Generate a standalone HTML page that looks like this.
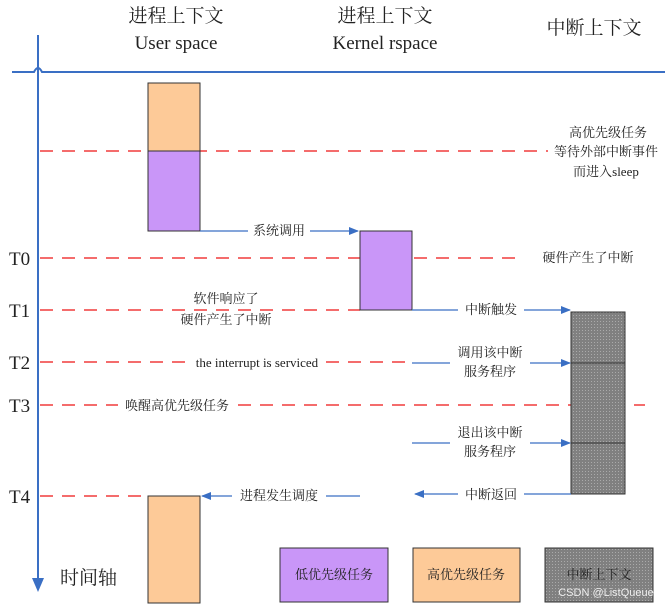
<!DOCTYPE html>
<html><head><meta charset="utf-8"><style>body{margin:0;background:#fff}svg{display:block}text{font-family:"Liberation Serif","Noto Serif CJK SC",serif;fill:#222}</style></head><body>
<svg width="667" height="605" viewBox="0 0 667 605">
<defs>
<pattern id="dots" width="3" height="3" patternUnits="userSpaceOnUse"><rect width="3" height="3" fill="#808080"/><rect width="1" height="1" fill="#aaa"/></pattern>
<marker id="ar" markerWidth="10" markerHeight="8" refX="9" refY="4" orient="auto" markerUnits="userSpaceOnUse"><path d="M0,0 L10,4 L0,8 z" fill="#3a6fc4"/></marker>
</defs>
<text x="176" y="22" font-size="19" text-anchor="middle">进程上下文</text>
<text x="176" y="49" font-size="19" text-anchor="middle">User space</text>
<text x="385" y="22" font-size="19" text-anchor="middle">进程上下文</text>
<text x="385" y="49" font-size="19" text-anchor="middle">Kernel rspace</text>
<text x="594" y="34" font-size="19" text-anchor="middle">中断上下文</text>
<path d="M12,72 H34 Q38,64 42,72 H665" stroke="#3a6fc4" stroke-width="2" fill="none"/>
<line x1="38" y1="35" x2="38" y2="580" stroke="#3a6fc4" stroke-width="2"/>
<path d="M32,578 L38,592 L44,578 z" fill="#3a6fc4"/>
<g stroke="#f03c3c" stroke-width="1.5" stroke-dasharray="13,9" fill="none">
<line x1="40" y1="151" x2="552" y2="151"/>
<line x1="40" y1="258" x2="520" y2="258"/>
<line x1="40" y1="310" x2="360" y2="310"/>
<line x1="40" y1="362" x2="412" y2="362"/>
<line x1="40" y1="405" x2="645" y2="405"/>
<line x1="40" y1="496" x2="148" y2="496"/>
</g>
<rect x="148" y="83" width="52" height="68" fill="#fdca98" stroke="#333"/>
<rect x="148" y="151" width="52" height="80" fill="#c996f8" stroke="#333"/>
<rect x="360" y="231" width="52" height="79" fill="#c996f8" stroke="#333"/>
<rect x="571" y="312" width="54" height="182" fill="url(#dots)" stroke="#333"/>
<line x1="571" y1="363" x2="625" y2="363" stroke="#333"/>
<line x1="571" y1="443" x2="625" y2="443" stroke="#333"/>
<rect x="571" y="405" width="54" height="0" stroke="#f03c3c"/>
<rect x="148" y="496" width="52" height="107" fill="#fdca98" stroke="#333"/>
<g stroke="#3a6fc4" stroke-width="1.2" fill="none">
<line x1="200" y1="231" x2="358" y2="231" marker-end="url(#ar)"/>
<line x1="412" y1="310" x2="570" y2="310" marker-end="url(#ar)"/>
<line x1="412" y1="363" x2="570" y2="363" marker-end="url(#ar)"/>
<line x1="412" y1="443" x2="570" y2="443" marker-end="url(#ar)"/>
<line x1="571" y1="494" x2="415" y2="494" marker-end="url(#ar)"/>
<line x1="360" y1="496" x2="202" y2="496" marker-end="url(#ar)"/>
</g>
<g font-size="13" text-anchor="middle">
<rect x="248" y="222" width="62" height="17" fill="#fff"/><text x="279" y="235">系统调用</text>
<rect x="458" y="301" width="66" height="17" fill="#fff"/><text x="491" y="314">中断触发</text>
<rect x="450" y="344" width="80" height="34" fill="#fff"/><text x="490" y="357">调用该中断</text><text x="490" y="376">服务程序</text>
<rect x="450" y="424" width="80" height="36" fill="#fff"/><text x="490" y="437">退出该中断</text><text x="490" y="456">服务程序</text>
<rect x="458" y="486" width="66" height="17" fill="#fff"/><text x="491" y="499">中断返回</text>
<rect x="232" y="488" width="94" height="17" fill="#fff"/><text x="279" y="500">进程发生调度</text>
<text x="608" y="137">高优先级任务</text>
<rect x="548" y="145" width="118" height="14" fill="#fff"/><text x="606" y="156">等待外部中断事件</text>
<text x="606" y="176">而进入sleep</text>
<rect x="524" y="250" width="130" height="17" fill="#fff"/><text x="588" y="262">硬件产生了中断</text>
<text x="226" y="303">软件响应了</text>
<text x="226" y="324">硬件产生了中断</text>
<rect x="186" y="354" width="140" height="16" fill="#fff"/><text x="257" y="367">the interrupt is serviced</text>
<rect x="118" y="397" width="118" height="16" fill="#fff"/><text x="177" y="410">唤醒高优先级任务</text>
</g>
<g font-size="19">
<text x="9" y="265">T0</text><text x="9" y="317">T1</text><text x="9" y="369">T2</text><text x="9" y="412">T3</text><text x="9" y="503">T4</text>
<text x="60" y="584">时间轴</text>
</g>
<rect x="280" y="548" width="108" height="54" fill="#c996f8" stroke="#333"/>
<rect x="413" y="548" width="107" height="54" fill="#fdca98" stroke="#333"/>
<rect x="545" y="548" width="108" height="54" fill="url(#dots)" stroke="#333"/>
<g font-size="13" text-anchor="middle"><text x="334" y="579">低优先级任务</text><text x="466" y="579">高优先级任务</text><text x="599" y="579">中断上下文</text></g>
<text x="606" y="596" font-size="11" text-anchor="middle" style="font-family:'Liberation Sans',sans-serif;fill:#eee">CSDN @ListQueue</text>
</svg>
</body></html>
